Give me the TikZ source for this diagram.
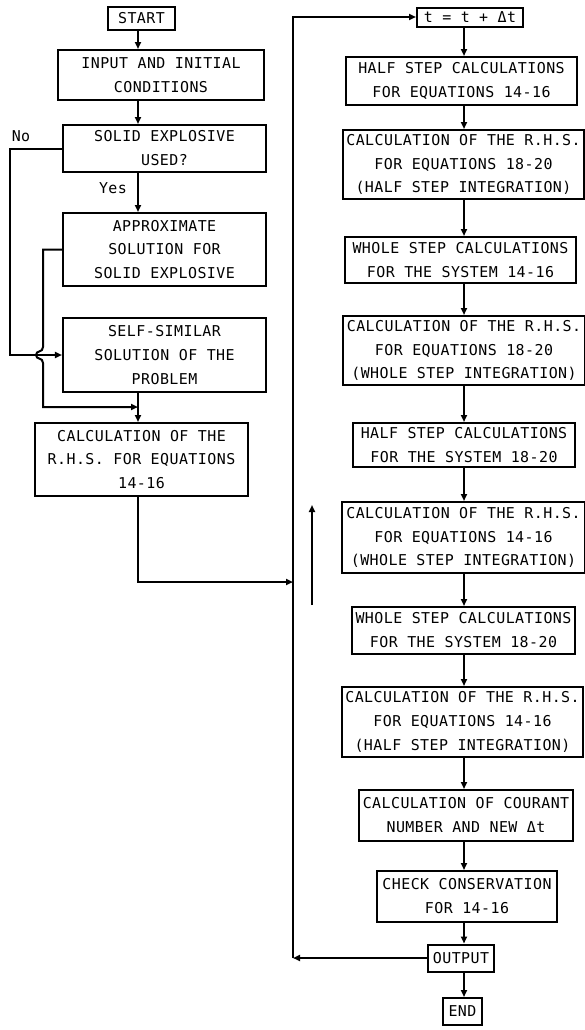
\documentclass[tikz,border=0pt]{standalone}
\usepackage{fontspec}
\newfontfamily\lett[LetterSpace=3]{DejaVu Sans Mono}
\usetikzlibrary{arrows.meta}
\begin{document}
\begin{tikzpicture}[x=1bp,y=-1bp,
  box/.style={draw, line width=2bp, inner sep=1pt, align=center, font=\lett\fontsize{15}{24}\selectfont},
  arr/.style={line width=2bp, -{Triangle[length=7bp,width=6bp]}},
  lbl/.style={font=\lett\fontsize{15}{16}\selectfont, inner sep=0pt}]
\useasboundingbox (0,0) rectangle (585,1030);
\coordinate (cl) at (138,0);
\coordinate (cr) at (464,0);
% left column
\node[box, minimum width=67bp, minimum height=23bp] (start) at (141.5,18.5) {START};
\node[box, minimum width=206bp, minimum height=50bp] (input) at (161,75) {INPUT AND INITIAL\\CONDITIONS};
\node[box, minimum width=203bp, minimum height=47bp] (solid) at (164.5,148.5) {SOLID EXPLOSIVE\\USED?};
\node[box, minimum width=203bp, minimum height=73bp] (approx) at (164.5,249.5) {APPROXIMATE\\SOLUTION FOR\\SOLID EXPLOSIVE};
\node[box, minimum width=203bp, minimum height=74bp] (selfsim) at (164.5,355) {SELF-SIMILAR\\SOLUTION OF THE\\PROBLEM};
\node[box, minimum width=213bp, minimum height=73bp] (calc0) at (141.5,459.5) {CALCULATION OF THE\\R.H.S. FOR EQUATIONS\\14-16};
\node[lbl] (no) at (21,136) {No};
\node[lbl] (yes) at (113,188) {Yes};
% right column
\node[box, minimum width=106bp, minimum height=19bp, inner sep=0pt] (tbox) at (470,17) {t = t + Δt};
\node[box, minimum width=231bp, minimum height=48bp] (h1) at (461.5,81) {HALF STEP CALCULATIONS\\FOR EQUATIONS 14-16};
\node[box, minimum width=241bp, minimum height=69bp] (c1) at (463.5,164.5) {CALCULATION OF THE R.H.S.\\FOR EQUATIONS 18-20\\(HALF STEP INTEGRATION)};
\node[box, minimum width=231bp, minimum height=46bp] (w1) at (460.5,260) {WHOLE STEP CALCULATIONS\\FOR THE SYSTEM 14-16};
\node[box, minimum width=242bp, minimum height=69bp] (c2) at (464,350.5) {CALCULATION OF THE R.H.S.\\FOR EQUATIONS 18-20\\(WHOLE STEP INTEGRATION)};
\node[box, minimum width=222bp, minimum height=44bp] (h2) at (464,445) {HALF STEP CALCULATIONS\\FOR THE SYSTEM 18-20};
\node[box, minimum width=243bp, minimum height=71bp] (c3) at (463.5,537.5) {CALCULATION OF THE R.H.S.\\FOR EQUATIONS 14-16\\(WHOLE STEP INTEGRATION)};
\node[box, minimum width=223bp, minimum height=47bp] (w2) at (463.5,630.5) {WHOLE STEP CALCULATIONS\\FOR THE SYSTEM 18-20};
\node[box, minimum width=241bp, minimum height=70bp] (c4) at (462.5,722) {CALCULATION OF THE R.H.S.\\FOR EQUATIONS 14-16\\(HALF STEP INTEGRATION)};
\node[box, minimum width=214bp, minimum height=51bp] (cour) at (466,815.5) {CALCULATION OF COURANT\\NUMBER AND NEW Δt};
\node[box, minimum width=180bp, minimum height=51bp] (check) at (467,896.5) {CHECK CONSERVATION\\FOR 14-16};
\node[box, minimum width=66bp, minimum height=27bp] (output) at (461,958) {OUTPUT};
\node[box, minimum width=39bp, minimum height=27bp] (end) at (462.5,1011.5) {END};
% left connectors
\draw[arr] (start.south -| cl) -- (input.north -| cl);
\draw[arr] (input.south -| cl) -- (solid.north -| cl);
\draw[arr] (solid.south -| cl) -- (approx.north -| cl);
\coordinate (n1) at (10,148.5);
\coordinate (n2) at (10,355);
\draw[arr] (solid.west) -- (n1) -- (n2) -- (selfsim.west);
\coordinate (a1) at (43,249.5);
\coordinate (a2) at (43,347);
\coordinate (a3) at (43,363);
\coordinate (a4) at (43,407);
\coordinate (j0) at (138,407);
\draw[arr] (approx.west) -- (a1) -- (a2) .. controls (43,353) and (36,350) .. (36,355) .. controls (36,360) and (43,357) .. (a3) -- (a4) -- (j0);
\draw[arr] (selfsim.south -| cl) -- (calc0.north -| cl);
\coordinate (c0a) at (138,582);
\coordinate (j1) at (293,582);
\draw[arr] (calc0.south -| cl) -- (c0a) -- (j1);
% loop
\coordinate (lc) at (293,958);
\coordinate (lt) at (293,17);
\draw[arr] (output.west) -- (lc);
\draw[arr] (lc) -- (lt) -- (tbox.west);
\coordinate (d1) at (312,605);
\coordinate (d2) at (312,505);
\draw[arr] (d1) -- (d2);
% right connectors
\foreach \a/\b in {tbox/h1, h1/c1, c1/w1, w1/c2, c2/h2, h2/c3, c3/w2, w2/c4, c4/cour, cour/check, check/output, output/end}
  \draw[arr] (\a.south -| cr) -- (\b.north -| cr);
\end{tikzpicture}
\end{document}
